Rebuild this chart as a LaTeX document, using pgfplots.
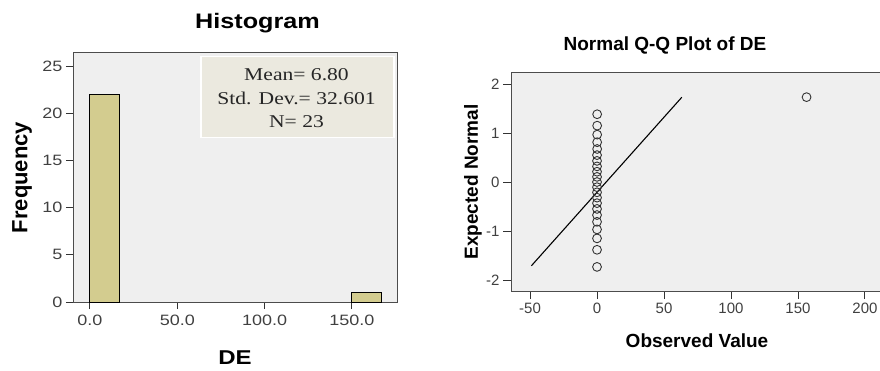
\documentclass[border=0pt]{standalone}
\usepackage{fontspec}
\setmainfont{Liberation Sans}
\newfontfamily\hsans{Liberation Sans}[FakeStretch=1.2]
\newfontfamily\hserif{Liberation Serif}[FakeStretch=1.2]
\usepackage{pgfplots}
\pgfplotsset{compat=1.18}
\definecolor{plotbg}{HTML}{EFEFEF}
\definecolor{barfill}{HTML}{D3CC8F}
\definecolor{boxfill}{HTML}{EBE9DF}
\definecolor{ticklab}{HTML}{404040}

\pgfplotstableread{
x y
0.0 -1.732
0.0 -1.383
0.0 -1.150
0.0 -0.967
0.0 -0.812
0.0 -0.674
0.0 -0.549
0.0 -0.431
0.0 -0.319
0.0 -0.210
0.0 -0.105
0.0 0.000
0.0 0.105
0.0 0.210
0.0 0.319
0.0 0.431
0.0 0.549
0.1 0.674
0.1 0.812
0.1 0.967
0.1 1.150
0.1 1.383
156.4 1.732
}\qqdata

\begin{document}
\begin{tikzpicture}[x=1pt,y=1pt]
\path[use as bounding box] (0pt,0pt) rectangle (880pt,370pt);
% ---------------- Histogram ----------------
\begin{axis}[
  at={(73pt,68pt)}, anchor=south west,
  scale only axis, width=324pt, height=249pt,
  xmin=-9.7, xmax=175.8, ymin=0, ymax=26.4,
  xtick={0,50,100,150}, ytick={0,5,10,15,20,25},
  xticklabels={0.0,50.0,100.0,150.0},
  yticklabels={0,5,10,15,20,25},
  axis background/.style={fill=plotbg},
  axis line style={draw=black!70, line width=1pt},
  tick align=outside, tick pos=left, major tick length=7pt,
  tick style={black!80, line width=1pt},
  ticklabel style={font=\hsans\fontsize{15}{17}\selectfont, text=ticklab},
  xticklabel style={yshift=-2pt},
  /pgf/number format/assume math mode=true,
]
\addplot[ybar interval, fill=barfill, draw=black, line width=0.9pt] coordinates {(0,22) (16.67,22)};
\addplot[ybar interval, fill=barfill, draw=black, line width=0.9pt] coordinates {(150,1) (166.67,1)};
\end{axis}
\node[fill=boxfill, draw=white, line width=1.5pt, minimum width=193pt, minimum height=81pt, anchor=north west, inner sep=0pt] at (200pt,314pt) {};
\node[align=center, text=black!85, font=\hserif\fontsize{18}{23.5}\selectfont] at (296.5pt,271.5pt) {Mean= 6.80\\Std. Dev.= 32.601\\N= 23};
\node[font=\hsans\bfseries\fontsize{21}{24}\selectfont] at (257.5pt,347pt) {Histogram};
\node[rotate=90, font=\bfseries\fontsize{22}{24}\selectfont] at (22pt,192.5pt) {Frequency};
\node[font=\hsans\bfseries\fontsize{20}{24}\selectfont] at (235pt,12pt) {DE};
% ---------------- Q-Q plot ----------------
\begin{axis}[
  at={(511pt,79pt)}, anchor=south west,
  scale only axis, width=371pt, height=219pt,
  xmin=-64.2, xmax=212.7, ymin=-2.224, ymax=2.245,
  xtick={-50,0,50,100,150,200}, xticklabels={-50,0,50,100,150,200},
  ytick={-2,-1,0,1,2}, yticklabels={-2,-1,0,1,2},
  axis background/.style={fill=plotbg},
  axis line style={draw=black!70, line width=1pt},
  tick align=outside, tick pos=left, major tick length=8pt,
  tick style={black!80, line width=1pt},
  ticklabel style={font=\fontsize{15}{17}\selectfont, text=ticklab},
  /pgf/number format/assume math mode=true,
]
\addplot[black, line width=1.1pt] coordinates {(-49,-1.71) (63.3,1.73)};
\addplot[only marks, mark=o, mark size=4.4pt, mark options={draw=black!80, line width=0.9pt}] table[x=x, y=y] {\qqdata};
\end{axis}
\node[font=\bfseries\fontsize{19}{22}\selectfont] at (665pt,325pt) {Normal Q-Q Plot of DE};
\node[rotate=90, font=\bfseries\fontsize{19}{22}\selectfont] at (473pt,188pt) {Expected Normal};
\node[font=\bfseries\fontsize{19}{22}\selectfont] at (697pt,29pt) {Observed Value};
\end{tikzpicture}
\end{document}
